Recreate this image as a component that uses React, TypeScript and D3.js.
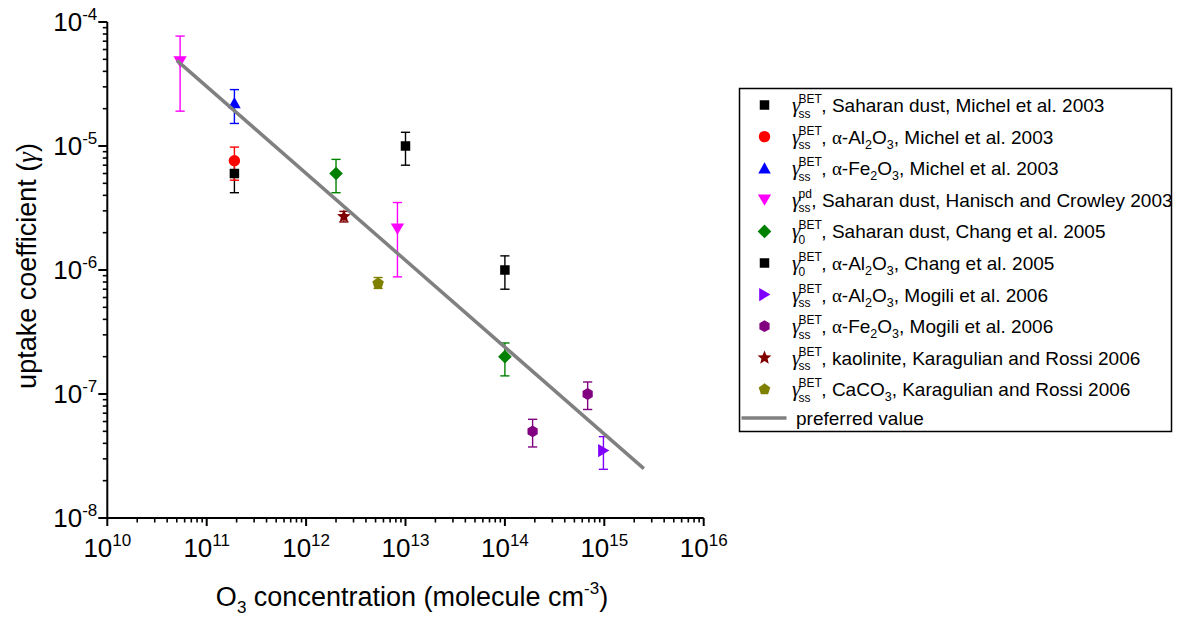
import React from 'react';
import * as d3 from 'd3';

// [O3 concentration, gamma, lower error, upper error]
const dustMichel = [[1.9e11, 6.0e-6, 4.2e-6, 7.8e-6]];
const alMichel = [[1.9e11, 7.6e-6, 5.3e-6, 9.8e-6]];
const feMichel = [[1.9e11, 2.23e-5, 1.52e-5, 2.85e-5]];
const dustHanisch = [
  [5.4e10, 4.8e-5, 1.91e-5, 7.7e-5],
  [8.3e12, 2.15e-6, 8.8e-7, 3.5e-6]
];
const dustChang = [
  [2.0e12, 6.0e-6, 4.2e-6, 7.8e-6],
  [1.0e14, 2.0e-7, 1.4e-7, 2.58e-7]
];
const alChang = [
  [1.0e13, 1.0e-5, 7.0e-6, 1.29e-5],
  [1.0e14, 1.0e-6, 7.0e-7, 1.3e-6]
];
const alMogili = [[9.8e14, 3.5e-8, 2.47e-8, 4.53e-8]];
const feMogili = [
  [1.9e14, 5.0e-8, 3.74e-8, 6.25e-8],
  [6.8e14, 1.0e-7, 7.5e-8, 1.25e-7]
];
const kaoKaragulian = [[2.4e12, 2.7e-6, 2.44e-6, 2.97e-6]];
const caKaragulian = [[5.3e12, 7.8e-7, 7.1e-7, 8.7e-7]];

// preferred value line end points
const preferredX = [5.0e10, 2.5e15];
const preferredY = [4.9e-5, 2.5e-8];

const xExponents = [10, 11, 12, 13, 14, 15, 16];
const yExponents = [-8, -7, -6, -5, -4];

const legendSup = ['BET', 'BET', 'BET', 'pd', 'BET', 'BET', 'BET', 'BET', 'BET', 'BET'];
const legendSub = ['ss', 'ss', 'ss', 'ss', '0', '0', 'ss', 'ss', 'ss', 'ss'];
const legendLabels = [
  'Saharan dust, Michel et al. 2003',
  'α-Al_2O_3, Michel et al. 2003',
  'α-Fe_2O_3, Michel et al. 2003',
  'Saharan dust, Hanisch and Crowley 2003',
  'Saharan dust, Chang et al. 2005',
  'α-Al_2O_3, Chang et al. 2005',
  'α-Al_2O_3, Mogili et al. 2006',
  'α-Fe_2O_3, Mogili et al. 2006',
  'kaolinite, Karagulian and Rossi 2006',
  'CaCO_3, Karagulian and Rossi 2006'
];

const W = 1185;
const H = 621;
const FONT = '"Liberation Sans", Arial, sans-serif';
const SERIF = '"Liberation Serif", "Times New Roman", serif';

const x = d3.scaleLog().domain([1e10, 1e16]).range([107.3, 703.7]);
const y = d3.scaleLog().domain([1e-8, 1e-4]).range([518, 22]);

// custom marker shapes for d3.symbol, size = side^2
function poly(pts) {
  return {
    draw(ctx, size) {
      const s = Math.sqrt(size);
      pts.forEach((p, i) => (i ? ctx.lineTo(p[0] * s, p[1] * s) : ctx.moveTo(p[0] * s, p[1] * s)));
      ctx.closePath();
    }
  };
}
function ngon(n, r, rot) {
  return d3.range(n).map(i => {
    const a = rot + (i * 2 * Math.PI) / n;
    return [r * Math.cos(a), r * Math.sin(a)];
  });
}
function star(ro, ri) {
  return d3.range(10).map(i => {
    const a = -Math.PI / 2 + (i * Math.PI) / 5;
    const r = i % 2 ? ri : ro;
    return [r * Math.cos(a), r * Math.sin(a)];
  });
}
const shapes = {
  square: poly([[-0.5, -0.5], [0.5, -0.5], [0.5, 0.5], [-0.5, 0.5]]),
  circle: {
    draw(ctx, size) {
      const r = Math.sqrt(size) * 0.6;
      ctx.moveTo(r, 0);
      ctx.arc(0, 0, r, 0, 2 * Math.PI);
    }
  },
  up: poly([[0, -0.62], [0.66, 0.56], [-0.66, 0.56]]),
  down: poly([[-0.7, -0.56], [0.7, -0.56], [0, 0.62]]),
  right: poly([[-0.56, -0.7], [0.62, 0], [-0.56, 0.7]]),
  diamond: poly([[0, -0.72], [0.72, 0], [0, 0.72], [-0.72, 0]]),
  hexagon: poly(ngon(6, 0.62, -Math.PI / 2)),
  star: poly(star(0.76, 0.34)),
  pentagon: poly(ngon(5, 0.64, -Math.PI / 2))
};

const series = [
  { data: dustMichel, color: '#000000', shape: 'square' },
  { data: alMichel, color: '#FF0000', shape: 'circle' },
  { data: feMichel, color: '#0000FF', shape: 'up' },
  { data: dustHanisch, color: '#FF00FF', shape: 'down' },
  { data: dustChang, color: '#008000', shape: 'diamond' },
  { data: alChang, color: '#000000', shape: 'square' },
  { data: alMogili, color: '#8000FF', shape: 'right' },
  { data: feMogili, color: '#800080', shape: 'hexagon' },
  { data: kaoKaragulian, color: '#800000', shape: 'star' },
  { data: caKaragulian, color: '#808000', shape: 'pentagon' }
];

const markerSize = 9.5;
const symbolPath = shape => d3.symbol().type(shapes[shape]).size(markerSize * markerSize)();

let measureCtx = null;
function textWidth(s, px) {
  if (!measureCtx) measureCtx = document.createElement('canvas').getContext('2d');
  measureCtx.font = `${px}px "Liberation Sans"`;
  return measureCtx.measureText(s).width;
}

// label with α in serif and _d as subscript
function richLabel(label, subSize, shift) {
  const parts = label.split(/(_\d|α)/).filter(p => p !== '');
  let offset = 0;
  return parts.map((p, i) => {
    if (p.startsWith('_')) {
      const dy = shift - offset;
      offset = shift;
      return (
        <tspan key={i} dy={dy} fontSize={subSize}>
          {p.slice(1)}
        </tspan>
      );
    }
    const dy = -offset;
    offset = 0;
    return (
      <tspan key={i} dy={dy} fontFamily={p === 'α' ? SERIF : undefined}>
        {p}
      </tspan>
    );
  });
}

function ErrorBars() {
  const cap = 4.6;
  return (
    <g>
      {series.map((s, si) =>
        s.data.map((d, i) => {
          const cx = x(d[0]);
          const lo = y(d[2]);
          const hi = y(d[3]);
          return (
            <g key={`${si}-${i}`} stroke={s.color} strokeWidth={1.4}>
              <line x1={cx} x2={cx} y1={lo} y2={hi} />
              <line x1={cx - cap} x2={cx + cap} y1={lo} y2={lo} />
              <line x1={cx - cap} x2={cx + cap} y1={hi} y2={hi} />
            </g>
          );
        })
      )}
    </g>
  );
}

function Axes() {
  const minorX = x.ticks().filter(t => Math.abs(Math.log10(t) - Math.round(Math.log10(t))) > 1e-6);
  const minorY = y.ticks().filter(t => Math.abs(Math.log10(t) - Math.round(Math.log10(t))) > 1e-6);
  const [x0, x1] = x.range();
  const [y0, y1] = y.range();
  return (
    <g stroke="#000" strokeWidth={2}>
      <line x1={x0} x2={x1} y1={y0} y2={y0} />
      <line x1={x0} x2={x0} y1={y0} y2={y1} />
      {xExponents.map(e => (
        <line key={e} x1={x(10 ** e)} x2={x(10 ** e)} y1={y0} y2={y0 + 8} />
      ))}
      {minorX.map(t => (
        <line key={t} x1={x(t)} x2={x(t)} y1={y0} y2={y0 + 4.5} strokeWidth={1.6} />
      ))}
      {yExponents.map(e => (
        <line key={e} x1={x0} x2={x0 - 9} y1={y(10 ** e)} y2={y(10 ** e)} />
      ))}
      {minorY.map(t => (
        <line key={t} x1={x0} x2={x0 - 4.5} y1={y(t)} y2={y(t)} strokeWidth={1.6} />
      ))}
    </g>
  );
}

function TickLabels() {
  const [x0] = x.range();
  const [y0] = y.range();
  return (
    <g fontSize={26} fill="#000">
      {xExponents.map(e => (
        <text key={e} x={x(10 ** e)} y={y0 + 39} textAnchor="middle">
          10
          <tspan dy={-11} fontSize={17}>
            {e}
          </tspan>
        </text>
      ))}
      {yExponents.map(e => (
        <text key={e} x={x0 - 10} y={y(10 ** e) + 9} textAnchor="end">
          10
          <tspan dy={-11} fontSize={17}>
            {e}
          </tspan>
        </text>
      ))}
    </g>
  );
}

function Legend() {
  const lx = 739.5;
  const ly = 88.5;
  const rowY = i => 105 + i * 31.6;
  const gx = 792;
  const supX = 798.5;
  return (
    <g>
      <rect x={lx} y={ly} width={432} height={343} fill="#fff" stroke="#000" strokeWidth={1.5} />
      {series.map((s, i) => {
        const b = rowY(i) + 7;
        const tx = supX + Math.max(textWidth(legendSup[i], 12), textWidth(legendSub[i], 12)) - 0.5;
        return (
          <g key={i}>
            <path d={symbolPath(s.shape)} transform={`translate(764.5,${rowY(i)})`} fill={s.color} />
            <text x={gx} y={b} fontSize={21} fontStyle="italic" fontFamily={SERIF}>
              γ
            </text>
            <text x={supX} y={b - 9} fontSize={12}>
              {legendSup[i]}
            </text>
            <text x={supX} y={b + 5.5} fontSize={12}>
              {legendSub[i]}
            </text>
            <text x={tx} y={b} fontSize={19}>
              {richLabel(', ' + legendLabels[i], 12.5, 5)}
            </text>
          </g>
        );
      })}
      <line x1={741.5} x2={786.5} y1={418} y2={418} stroke="#808080" strokeWidth={3.5} />
      <text x={796} y={425} fontSize={19}>
        preferred value
      </text>
    </g>
  );
}

export default function App() {
  const line = d3
    .line()
    .x(d => x(d[0]))
    .y(d => y(d[1]));
  const prefPts = preferredX.map((v, i) => [v, preferredY[i]]);
  return (
    <div style={{ position: 'absolute', left: 0, top: 0 }}>
      <svg width={W} height={H} style={{ display: 'block', fontFamily: FONT }}>
        <rect width={W} height={H} fill="#fff" />
        <ErrorBars />
        {series.map((s, si) =>
          s.data.map((d, i) => (
            <path
              key={`${si}-${i}`}
              d={symbolPath(s.shape)}
              transform={`translate(${x(d[0])},${y(d[1])})`}
              fill={s.color}
            />
          ))
        )}
        <path d={line(prefPts)} stroke="#808080" strokeWidth={3.5} fill="none" />
        <Axes />
        <TickLabels />
        <text x={412} y={606} fontSize={27} textAnchor="middle">
          O
          <tspan dy={7} fontSize={17}>
            3
          </tspan>
          <tspan dy={-7}> concentration (molecule cm</tspan>
          <tspan dy={-12} fontSize={17}>
            -3
          </tspan>
          <tspan dy={12}>)</tspan>
        </text>
        <text transform="translate(36,266) rotate(-90)" fontSize={27} textAnchor="middle">
          uptake coefficient (
          <tspan fontFamily={SERIF} fontStyle="italic">
            γ
          </tspan>
          )
        </text>
        <Legend />
      </svg>
    </div>
  );
}
